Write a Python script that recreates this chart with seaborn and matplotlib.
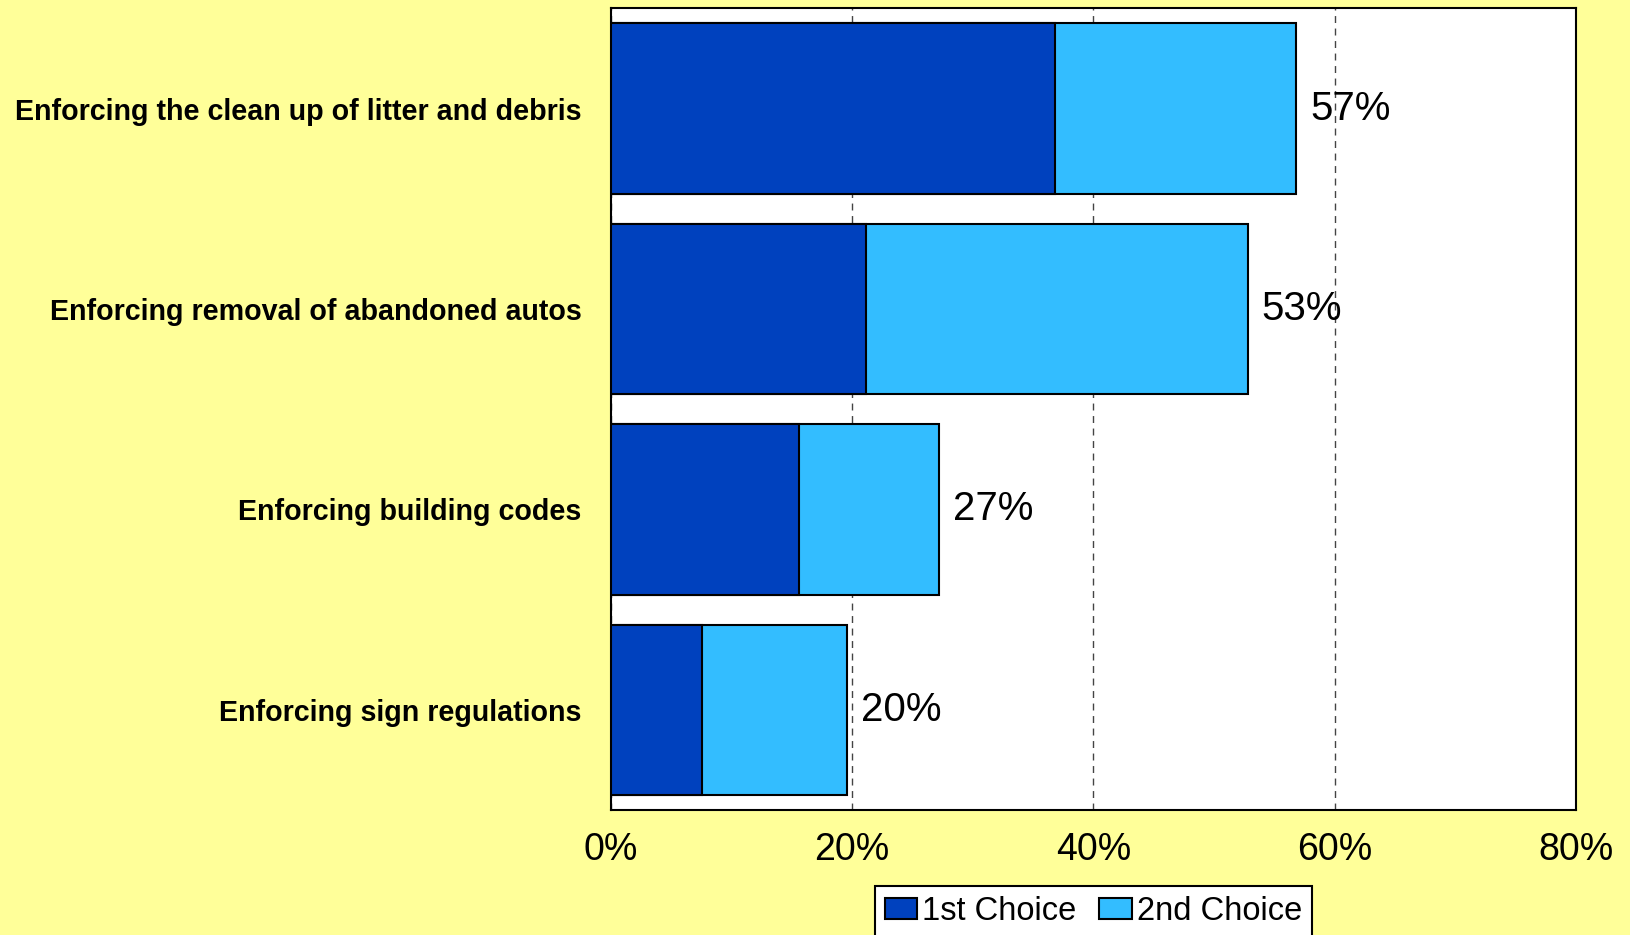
import matplotlib
matplotlib.use("Agg")
import matplotlib.pyplot as plt
import matplotlib.patches as mpatches
from matplotlib.ticker import FuncFormatter
import seaborn as sns
import pandas as pd

categories = [
    "Enforcing the clean up of litter and debris",
    "Enforcing removal of abandoned autos",
    "Enforcing building codes",
    "Enforcing sign regulations",
]
first_choice = [36.8, 21.2, 15.6, 7.6]
second_choice = [20.0, 31.6, 11.6, 12.0]
series_names = ["1st Choice", "2nd Choice"]
xticks = [0, 20, 40, 60, 80]

totals = [a + b for a, b in zip(first_choice, second_choice)]
df = pd.DataFrame({"category": categories, "first": first_choice, "total": totals})

sns.set_style("white")
plt.rcParams["font.family"] = ["Liberation Sans", "DejaVu Sans"]
for k in ["text.color", "xtick.color", "ytick.color", "axes.labelcolor"]:
    plt.rcParams[k] = "black"

BG = "#FFFF99"
C1 = "#0041BE"
C2 = "#33BDFF"

fig = plt.figure(figsize=(16.31, 9.35), dpi=100, facecolor=BG)
ax = fig.add_axes([0.3744, 0.1337, 0.9663 - 0.3744, 0.9911 - 0.1337])
ax.set_facecolor("white")

sns.barplot(data=df, y="category", x="total", orient="h", color=C2, width=0.85,
            edgecolor="black", linewidth=1.5, saturation=1, ax=ax, zorder=3)
sns.barplot(data=df, y="category", x="first", orient="h", color=C1, width=0.85,
            edgecolor="black", linewidth=1.5, saturation=1, ax=ax, zorder=3)

ax.bar_label(ax.containers[0], labels=[f"{round(t)}%" for t in totals],
             padding=10, fontsize=29, color="black")

ax.set_xlim(0, 80)
ax.set_ylim(3.5, -0.5)
ax.set_xticks(xticks)
ax.xaxis.set_major_formatter(FuncFormatter(lambda v, p: f"{v:.0f}%"))
ax.set_xlabel("")
ax.set_ylabel("")
ax.tick_params(axis="x", length=0, pad=16, labelsize=27, labelcolor="black")
ax.tick_params(axis="y", length=0, pad=21, labelsize=20.6, labelcolor="black")
for lbl in ax.get_yticklabels():
    lbl.set_fontweight("bold")

ax.grid(axis="x", linestyle=(0, (5, 4)), color="#444444", linewidth=1, zorder=0)
ax.grid(axis="y", visible=False)
ax.set_axisbelow(True)
for sp in ax.spines.values():
    sp.set_visible(True)
    sp.set_color("black")
    sp.set_linewidth(1.5)

handles = [mpatches.Patch(facecolor=C1, edgecolor="black", linewidth=1.5),
           mpatches.Patch(facecolor=C2, edgecolor="black", linewidth=1.5)]
leg = ax.legend(handles, series_names, loc="upper center", bbox_to_anchor=(0.5, -0.095),
                ncol=2, fontsize=23.5, frameon=True, fancybox=False, borderaxespad=0,
                handlelength=1.0, handleheight=0.65, handletextpad=0.15, columnspacing=0.7,
                borderpad=0.3, labelcolor="black")
leg.get_frame().set_edgecolor("black")
leg.get_frame().set_linewidth(1.5)
leg.get_frame().set_facecolor("white")
leg.get_frame().set_alpha(1)

fig.savefig("out.png", dpi=100, facecolor=BG)
